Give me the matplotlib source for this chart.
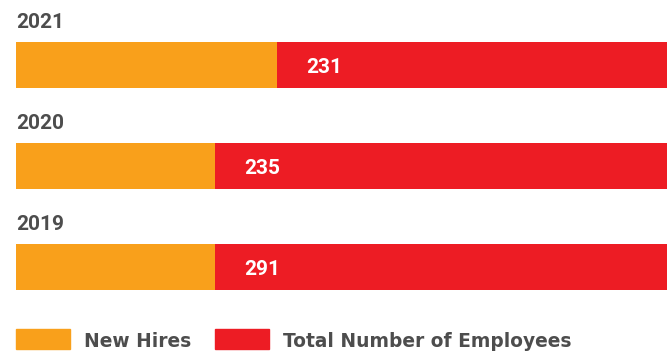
import matplotlib
matplotlib.use("Agg")
import matplotlib.pyplot as plt
from matplotlib.patches import Rectangle

years = ["2021", "2020", "2019"]
total_employees = [231, 235, 291]
new_hires_share = [40.1, 30.6, 30.6]  # percent of bar length
series_names = ["New Hires", "Total Number of Employees"]

ORANGE = "#F9A01B"
RED = "#ED1C24"
GRAY = "#4D4D4D"
NUMFONT = ["Roboto", "DejaVu Sans"]
TXTFONT = ["DejaVu Sans"]

W, H = 667, 354
fig = plt.figure(figsize=(W / 100, H / 100), dpi=100)
ax = fig.add_axes([16 / W, 0, 1 - 16 / W, 1])
ax.set_xlim(0, 100)
ax.set_ylim((H - 65) / 101, -65 / 101)
ax.axis("off")

bh = 46 / 101
for i, (yr, tot, share) in enumerate(zip(years, total_employees, new_hires_share)):
    ax.barh(i, share, height=bh, color=ORANGE, left=0)
    ax.barh(i, 100 - share, height=bh, color=RED, left=share)
    ax.text(share + 4.5, i + 8 / 101, str(tot), color="white", fontsize=15, fontweight="bold",
            va="baseline", ha="left", family=NUMFONT)
    ax.text(0, i - 37 / 101, yr, color=GRAY, fontsize=15, fontweight="bold",
            va="baseline", ha="left", family=NUMFONT)

# legend
for x0, label, col in [(16, series_names[0], ORANGE), (215, series_names[1], RED)]:
    fig.patches.append(Rectangle((x0 / W, 1 - 349 / H), 54 / W, 20 / H,
                                 transform=fig.transFigure, color=col))
    fig.text((x0 + 68) / W, 1 - 347 / H, label, color=GRAY, fontsize=13.4,
             fontweight="bold", va="baseline", ha="left", family=TXTFONT)

fig.savefig("out.png", dpi=100)
